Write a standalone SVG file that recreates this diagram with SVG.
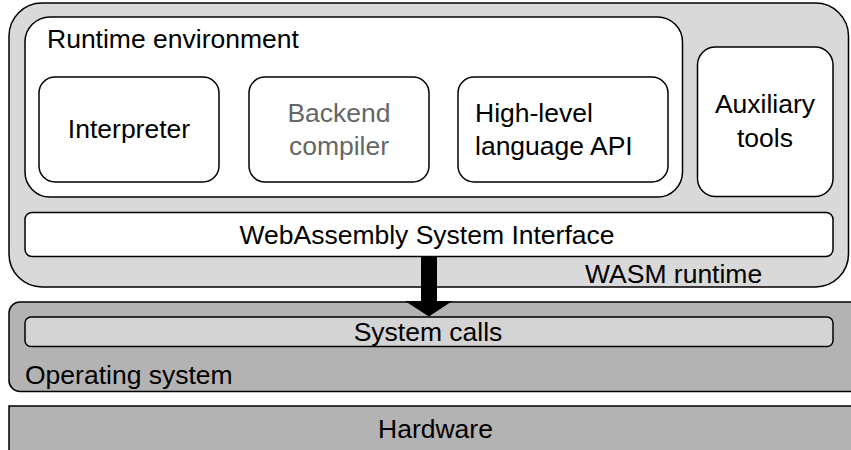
<svg xmlns="http://www.w3.org/2000/svg" width="851" height="450" viewBox="0 0 851 450">
  <style>
    .box { stroke: #000; stroke-width: 1.5; }
    .white { fill: #ffffff; }
    .t { font-family: "Liberation Sans", Arial, Helvetica, sans-serif; font-size: 26.5px; fill: #000; }
    .mid { text-anchor: middle; }
    .gray { fill: #666666; }
  </style>
  <rect width="851" height="450" fill="#ffffff"/>

  <g id="wasm-runtime">
    <rect class="box" x="9" y="3" width="839.5" height="284" rx="33" ry="33" fill="#d9d9d9"/>
    <text class="t" x="585" y="283">WASM runtime</text>
  </g>

  <g id="runtime-environment">
    <rect class="box white" x="25" y="17" width="657.5" height="180" rx="25" ry="25"/>
    <text class="t" x="47" y="48">Runtime environment</text>
  </g>

  <g id="interpreter">
    <rect class="box white" x="39" y="77" width="180" height="105" rx="16" ry="16"/>
    <text class="t mid" x="129" y="138">Interpreter</text>
  </g>

  <g id="backend-compiler">
    <rect class="box white" x="249" y="77" width="180" height="105" rx="16" ry="16"/>
    <text class="t mid gray" x="339" y="122">Backend</text>
    <text class="t mid gray" x="339" y="155">compiler</text>
  </g>

  <g id="high-level-api">
    <rect class="box white" x="458" y="77" width="210" height="105" rx="16" ry="16"/>
    <text class="t" x="475" y="122">High-level</text>
    <text class="t" x="475" y="155">language API</text>
  </g>

  <g id="auxiliary-tools">
    <rect class="box white" x="697.5" y="47" width="135.5" height="149.5" rx="18" ry="18"/>
    <text class="t mid" x="765" y="113">Auxiliary</text>
    <text class="t mid" x="765" y="147">tools</text>
  </g>

  <g id="wasi">
    <rect class="box white" x="25" y="212.5" width="808" height="44" rx="7" ry="7"/>
    <text class="t mid" x="427" y="244">WebAssembly System Interface</text>
  </g>

  <g id="operating-system">
    <rect class="box" x="9" y="302" width="860" height="89.5" rx="11" ry="11" fill="#b3b3b3"/>
    <text class="t" x="25" y="384">Operating system</text>
  </g>

  <g id="system-calls">
    <rect class="box" x="25" y="317" width="808" height="29.5" rx="6" ry="6" fill="#d4d4d4"/>
    <text class="t mid" x="428" y="340.5">System calls</text>
  </g>

  <g id="hardware">
    <rect class="box" x="9" y="406" width="860" height="60" fill="#b3b3b3"/>
    <text class="t mid" x="435.5" y="438">Hardware</text>
  </g>

  <g id="connectors">
    <path d="M421 256.5 H437 V301 H452.5 L428.8 316.5 L405 301 H421 Z" fill="#000" stroke="none"/>
  </g>
</svg>
